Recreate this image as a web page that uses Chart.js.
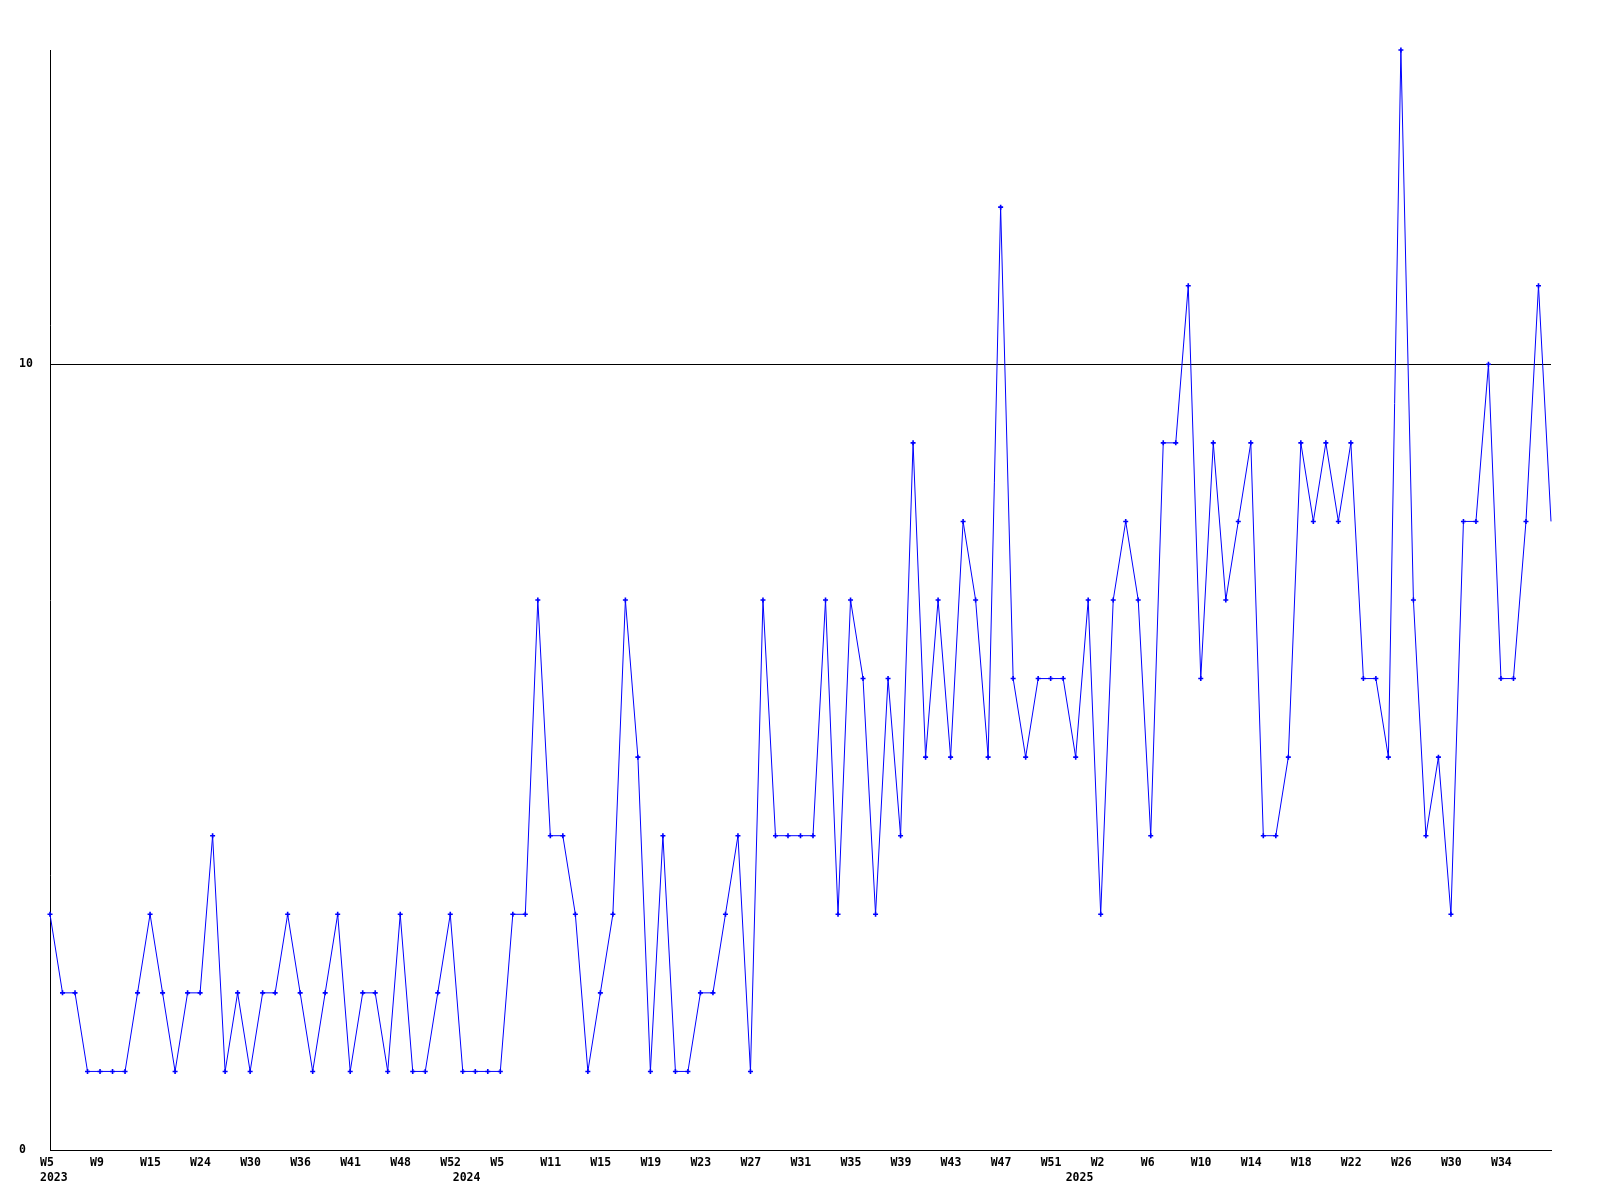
<!DOCTYPE html>
<html>
<head>
<meta charset="utf-8">
<script src="https://cdn.jsdelivr.net/npm/chart.js@4/dist/chart.umd.min.js"></script>
<style>
  html, body { margin: 0; padding: 0; background: #ffffff; }
  #wrap { width: 1600px; height: 1200px; }
</style>
</head>
<body>
<div id="wrap"><canvas id="c" width="1600" height="1200"></canvas></div>
<script>
// Weekly counts (one value per plotted week)
const values = [
  3,2,2,1,1,1,1,2,3,2,
  1,2,2,4,1,2,1,2,2,3,
  2,1,2,3,1,2,2,1,3,1,
  1,2,3,1,1,1,1,3,3,7,
  4,4,3,1,2,3,7,5,1,4,
  1,1,2,2,3,4,1,7,4,4,
  4,4,7,3,7,6,3,6,4,9,
  5,7,5,8,7,5,12,6,5,6,
  6,6,5,7,3,7,8,7,4,9,
  9,11,6,9,7,8,9,4,4,5,
  9,8,9,8,9,6,6,5,14,7,
  4,5,3,8,8,10,6,6,8,11,
  8
];
// Week tick labels, one every 4th plotted week
const weekLabels = ['W5','W9','W15','W24','W30','W36','W41','W48','W52','W5','W11','W15','W19','W23','W27','W31','W35','W39','W43','W47','W51','W2','W6','W10','W14','W18','W22','W26','W30','W34'];
const weekLabelStep = 4;
// Year labels and the week index where each year begins
const yearNames = ['2023','2024','2025'];
const yearStartIndex = [0, 33, 82];
// Y axis tick labels
const yTickValues = [0, 10];
const yMax = 14;

const categories = values.map((v, i) => i);
const lastIndex = values.length - 1;

const tickFont = { family: 'DejaVu Sans Mono', weight: 'bold', size: 11.5, lineHeight: '15px' };

const xTickPositions = weekLabels.map((l, i) => i * weekLabelStep);
yearStartIndex.forEach(p => { if (!xTickPositions.includes(p)) xTickPositions.push(p); });
xTickPositions.sort((a, b) => a - b);

new Chart(document.getElementById('c'), {
  type: 'line',
  data: {
    labels: categories,
    datasets: [{
      data: values,
      borderColor: '#0000ff',
      backgroundColor: '#0000ff',
      borderWidth: 1,
      tension: 0,
      fill: false,
      clip: false,
      pointStyle: 'cross',
      pointRadius: ctx => ctx.dataIndex === lastIndex ? 0 : 2.5,
      pointBorderWidth: 1.6,
      pointBorderColor: '#0000ff',
      pointHoverRadius: 2.5
    }]
  },
  options: {
    responsive: false,
    animation: false,
    devicePixelRatio: 1,
    layout: { padding: { left: 19, top: 50, right: 49, bottom: 0 } },
    plugins: { legend: { display: false }, tooltip: { enabled: false }, title: { display: false } },
    scales: {
      x: {
        type: 'linear',
        min: 0,
        max: lastIndex,
        afterBuildTicks: scale => { scale.ticks = xTickPositions.map(v => ({ value: v })); },
        afterFit: scale => { scale.height = 50; },
        grid: { display: false, drawTicks: false, tickLength: 0 },
        border: { display: true, color: '#000000', width: 1 },
        ticks: {
          autoSkip: false,
          maxRotation: 0,
          minRotation: 0,
          align: 'start',
          labelOffset: -10,
          padding: 6,
          color: '#000000',
          font: tickFont,
          callback: value => {
            const w = (value % weekLabelStep === 0) ? (weekLabels[value / weekLabelStep] || '') : '';
            const yi = yearStartIndex.indexOf(value);
            return yi >= 0 ? [w, yearNames[yi]] : w;
          }
        }
      },
      y: {
        type: 'linear',
        min: 0,
        max: yMax,
        afterBuildTicks: scale => { scale.ticks = yTickValues.map(v => ({ value: v })); },
        afterFit: scale => { scale.width = 31; },
        grid: { display: true, drawTicks: false, tickLength: 0, color: '#000000', lineWidth: 1 },
        border: { display: true, color: '#000000', width: 1 },
        ticks: {
          crossAlign: 'far',
          padding: 0,
          color: '#000000',
          font: tickFont,
          callback: value => String(value)
        }
      }
    }
  }
});
</script>
</body>
</html>
